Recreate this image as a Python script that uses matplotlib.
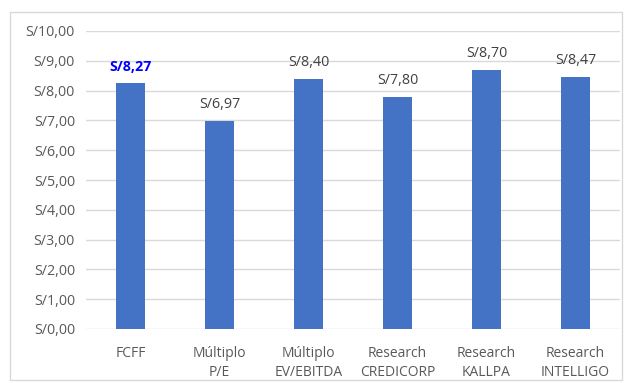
import matplotlib
matplotlib.use("Agg")
import matplotlib.pyplot as plt
from matplotlib.patches import Rectangle

categories = ["FCFF", "Múltiplo\nP/E", "Múltiplo\nEV/EBITDA", "Research\nCREDICORP", "Research\nKALLPA", "Research\nINTELLIGO"]
values = [8.27, 6.97, 8.40, 7.80, 8.70, 8.47]
labels = ["S/8,27", "S/6,97", "S/8,40", "S/7,80", "S/8,70", "S/8,47"]
yticks = [0, 1, 2, 3, 4, 5, 6, 7, 8, 9, 10]
ytick_labels = ["S/%d,00" % v for v in yticks]

plt.rcParams['font.family'] = ['Open Sans', 'DejaVu Sans']

fig = plt.figure(figsize=(6.27, 3.83), dpi=100)
fig.patches.append(Rectangle((10/627, 3/383), 612/627, 368/383, transform=fig.transFigure,
                             fill=False, edgecolor="#d9d9d9", linewidth=1.0))
ax = fig.add_axes([86/627, 1 - 329/383, 534/627, 298/383])
x = list(range(len(categories)))
ax.bar(x, values, width=0.32, color="#4472c4", zorder=3)
ax.set_xlim(-0.5, len(categories) - 0.5)
ax.set_ylim(0, 10)
ax.set_yticks(yticks)
ax.set_yticklabels(ytick_labels, fontsize=10.3, color="#595959")
ax.set_xticks(x)
ax.set_xticklabels(categories, fontsize=10, color="#595959", linespacing=1.4)
ax.grid(axis="y", color="#d9d9d9", linewidth=1.0, zorder=0)
for s in ax.spines.values():
    s.set_visible(False)
ax.tick_params(length=0, pad=8)
ax.tick_params(axis="x", pad=12)
for i, (v, l) in enumerate(zip(values, labels)):
    if i == 0:
        ax.text(i, v + 0.3, l, ha="center", va="bottom", fontsize=10.3, color="#0000ff", fontweight="bold")
    else:
        ax.text(i, v + 0.3, l, ha="center", va="bottom", fontsize=10.3, color="#404040")
fig.savefig("out.png", dpi=100)
